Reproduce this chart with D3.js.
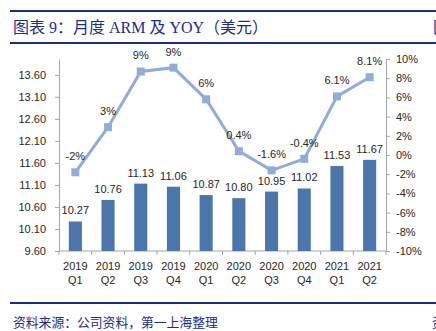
<!DOCTYPE html>
<html>
<head>
<meta charset="utf-8">
<script src="https://cdn.jsdelivr.net/npm/d3@7"></script>
<style>
  body { margin: 0; background: #fff; }
  svg { display: block; }
  .axis text { font-family: "Liberation Sans", Arial, sans-serif; font-size: 11px; fill: #262626; }
  .axis path, .axis line { stroke: #a6a6a6; }
</style>
</head>
<body>
<svg id="chart"></svg>
<script>
const quarters = ['2019 Q1', '2019 Q2', '2019 Q3', '2019 Q4', '2020 Q1', '2020 Q2', '2020 Q3', '2020 Q4', '2021 Q1', '2021 Q2']
const arm = [10.27, 10.76, 11.13, 11.06, 10.87, 10.80, 10.95, 11.02, 11.53, 11.67]
const yoy = [-1.8, 2.9, 8.7, 9.1, 5.8, 0.4, -1.6, -0.4, 6.1, 8.1]
const yoyLabels = ['-2%', '3%', '9%', '9%', '6%', '0.4%', '-1.6%', '-0.4%', '6.1%', '8.1%']
const leftTicks = [9.6, 10.1, 10.6, 11.1, 11.6, 12.1, 12.6, 13.1, 13.6]
const rightTicks = [-10, -8, -6, -4, -2, 0, 2, 4, 6, 8, 10]

const W = 436, H = 331
const margin = { top: 59, bottom: 80, left: 59, right: 50 }
const barColor = '#4a76ab'
const lineColor = '#91acd7'
const navy = '#1c2b8c'
const labelFont = '"Liberation Sans", Arial, sans-serif'

const svg = d3.select('#chart')
    .attr('width', W)
    .attr('height', H)

const width = W - margin.left - margin.right
const height = H - margin.top - margin.bottom

// header and footer rules
svg.append('rect').attr('x', 10).attr('y', 10).attr('width', W - 10).attr('height', 2).attr('fill', navy)
svg.append('rect').attr('x', 10).attr('y', 42).attr('width', W - 10).attr('height', 2).attr('fill', navy)
svg.append('rect').attr('x', 10).attr('y', 302).attr('width', W - 10).attr('height', 2).attr('fill', navy)

svg.append('text')
    .attr('x', 13)
    .attr('y', 33)
    .attr('fill', navy)
    .style('font-family', '"Liberation Serif", "Noto Sans CJK SC", serif')
    .style('font-size', '16px')
    .text('图表 9：月度 ARM 及 YOY（美元）')

// next column's heading, cut by the page edge
svg.append('text')
    .attr('x', 433)
    .attr('y', 33)
    .attr('fill', navy)
    .style('font-family', '"Noto Sans CJK SC", sans-serif')
    .style('font-size', '16px')
    .text('图')

svg.append('text')
    .attr('x', 13)
    .attr('y', 327)
    .attr('fill', navy)
    .style('font-family', '"Noto Sans CJK SC", sans-serif')
    .style('font-size', '12.8px')
    .text('资料来源：公司资料，第一上海整理')

svg.append('text')
    .attr('x', 432)
    .attr('y', 327)
    .attr('fill', navy)
    .style('font-family', '"Noto Sans CJK SC", sans-serif')
    .style('font-size', '12.8px')
    .text('资')

const chart = svg.append('g')
    .attr('transform', `translate(${margin.left},${margin.top})`)

const xScale = d3.scaleBand()
    .domain(quarters)
    .range([0, width])
    .paddingInner(0.6)
    .paddingOuter(0.3)

const yLeft = d3.scaleLinear()
    .domain([9.6, 13.96])
    .range([height, 0])

const yRight = d3.scaleLinear()
    .domain([-10, 10])
    .range([height, 0])

// left axis
chart.append('g')
    .attr('class', 'axis y-axis')
    .call(d3.axisLeft(yLeft).tickValues(leftTicks).tickFormat(d3.format('.2f')).tickSizeInner(4).tickSizeOuter(0).tickPadding(9))

// right axis
chart.append('g')
    .attr('class', 'axis y-axis-right')
    .attr('transform', `translate(${width},0)`)
    .call(d3.axisRight(yRight).tickValues(rightTicks).tickFormat(d => d + '%').tickSizeInner(4).tickSizeOuter(0).tickPadding(6))

// bottom axis: ticks sit between categories
const step = xScale.step()
const xAxisG = chart.append('g')
    .attr('class', 'axis x-axis')
    .attr('transform', `translate(0,${height})`)

xAxisG.append('line')
    .attr('x1', 0).attr('x2', width)
    .attr('stroke', '#a6a6a6')

xAxisG.selectAll('.xtick')
    .data(d3.range(quarters.length + 1))
    .join('line')
    .attr('class', 'xtick')
    .attr('x1', i => i * step)
    .attr('x2', i => i * step)
    .attr('y1', 0)
    .attr('y2', 4)
    .attr('stroke', '#a6a6a6')

const xLabels = xAxisG.selectAll('.xlabel')
    .data(quarters)
    .join('text')
    .attr('class', 'xlabel')
    .attr('text-anchor', 'middle')
    .attr('transform', d => `translate(${xScale(d) + xScale.bandwidth() / 2},0)`)

xLabels.append('tspan').attr('x', 0).attr('y', 19).text(d => d.split(' ')[0])
xLabels.append('tspan').attr('x', 0).attr('y', 33).text(d => d.split(' ')[1])

// bars
chart.selectAll('.bar')
    .data(arm)
    .join('rect')
    .attr('class', 'bar')
    .attr('x', (d, i) => xScale(quarters[i]))
    .attr('y', d => yLeft(d))
    .attr('width', xScale.bandwidth())
    .attr('height', d => height - yLeft(d))
    .attr('fill', barColor)

chart.selectAll('.bar-label')
    .data(arm)
    .join('text')
    .attr('class', 'bar-label')
    .attr('x', (d, i) => xScale(quarters[i]) + xScale.bandwidth() / 2)
    .attr('y', d => yLeft(d) - 7)
    .attr('text-anchor', 'middle')
    .style('font-family', labelFont)
    .style('font-size', '11px')
    .attr('fill', '#262626')
    .text(d => d3.format('.2f')(d))

// yoy line
const cx = i => xScale(quarters[i]) + xScale.bandwidth() / 2
const line = d3.line()
    .x((d, i) => cx(i))
    .y(d => yRight(d))

chart.append('path')
    .datum(yoy)
    .attr('d', line)
    .attr('fill', 'none')
    .attr('stroke', lineColor)
    .attr('stroke-width', 3)

chart.selectAll('.marker')
    .data(yoy)
    .join('rect')
    .attr('class', 'marker')
    .attr('x', (d, i) => cx(i) - 4)
    .attr('y', d => yRight(d) - 4)
    .attr('width', 8)
    .attr('height', 8)
    .attr('fill', lineColor)

chart.selectAll('.yoy-label')
    .data(yoy)
    .join('text')
    .attr('class', 'yoy-label')
    .attr('x', (d, i) => cx(i))
    .attr('y', d => yRight(d) - 12)
    .attr('text-anchor', 'middle')
    .style('font-family', labelFont)
    .style('font-size', '11px')
    .attr('fill', '#262626')
    .text((d, i) => yoyLabels[i])
</script>
</body>
</html>
